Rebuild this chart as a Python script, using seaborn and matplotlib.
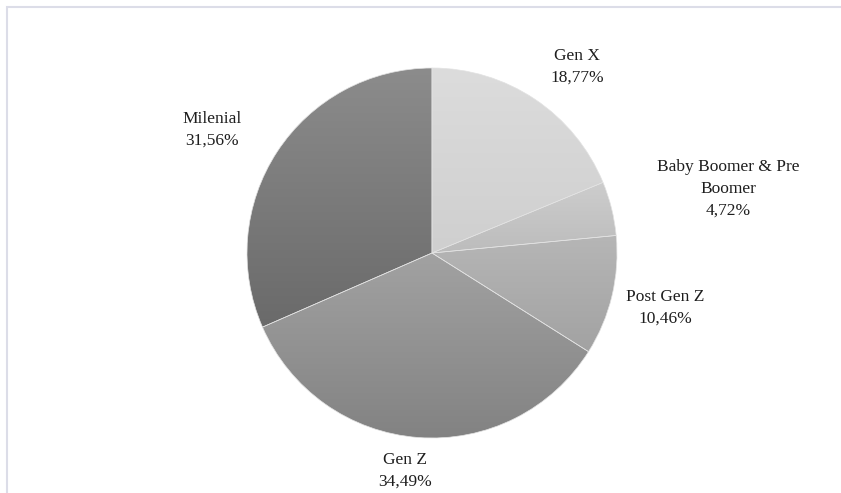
import numpy as np
import matplotlib
matplotlib.use("Agg")
import matplotlib.pyplot as plt
import seaborn as sns
from matplotlib.colors import LinearSegmentedColormap
from matplotlib.patches import Rectangle

categories = ["Gen X", "Baby Boomer & Pre\nBoomer", "Post Gen Z", "Gen Z", "Milenial"]
values = [18.77, 4.72, 10.46, 34.49, 31.56]
value_labels = ["18,77%", "4,72%", "10,46%", "34,49%", "31,56%"]

# gradient colours (top, bottom) per wedge
grad_colors = [("#dcdcdc", "#cfcfcf"), ("#cdcdcd", "#bcbcbc"), ("#b6b6b6", "#a2a2a2"),
               ("#a2a2a2", "#828282"), ("#8c8c8c", "#6a6a6a")]
# label anchor (pixel coordinates, y from top)
label_pos = [(577, 67), (728, 189), (665, 308), (405, 471), (212, 130)]

sns.set_theme(style="white")
plt.rcParams['font.family'] = ['Liberation Serif', 'DejaVu Serif']

W, H = 841, 493
fig = plt.figure(figsize=(W / 100, H / 100), dpi=100)
ax = fig.add_axes([0, 0, 1, 1])

cx, cy, r = 432, H - 253, 185
wedges, _ = ax.pie(values, startangle=90, counterclock=False, center=(cx, cy), radius=r,
                   colors=[c[1] for c in grad_colors],
                   wedgeprops=dict(edgecolor="#e2e2e2", linewidth=0.5), frame=True)
ax.set_xlim(0, W)
ax.set_ylim(0, H)
ax.set_aspect("equal")
ax.axis("off")

for w, (top, bot) in zip(wedges, grad_colors):
    verts = w.get_transform().transform(w.get_path().vertices)
    verts = ax.transData.inverted().transform(verts)
    y0, y1 = verts[:, 1].min(), verts[:, 1].max()
    x0, x1 = verts[:, 0].min(), verts[:, 0].max()
    cmap = LinearSegmentedColormap.from_list("g", [bot, top])
    grad = np.linspace(0, 1, 256).reshape(-1, 1)
    im = ax.imshow(grad, cmap=cmap, extent=(x0, x1, y0, y1), origin="lower",
                   aspect="auto", zorder=w.get_zorder() + 0.1, interpolation="bilinear")
    im.set_clip_path(w)

for w in wedges:
    w.set_facecolor("none")
    w.set_zorder(5)

ax.set_xlim(0, W)
ax.set_ylim(0, H)

for cat, lab, (lx, ly) in zip(categories, value_labels, label_pos):
    ax.text(lx, H - ly, f"{cat}\n{lab}", ha="center", va="center", fontsize=12.5,
            color="#1e1e1e", linespacing=1.5)

# frame border
fig.patches.append(Rectangle((7 / W, -0.1), 1.2, (H - 7) / H + 0.1, transform=fig.transFigure,
                             fill=False, edgecolor="#dcdde8", linewidth=1.5))

fig.savefig("out.png", dpi=100)
